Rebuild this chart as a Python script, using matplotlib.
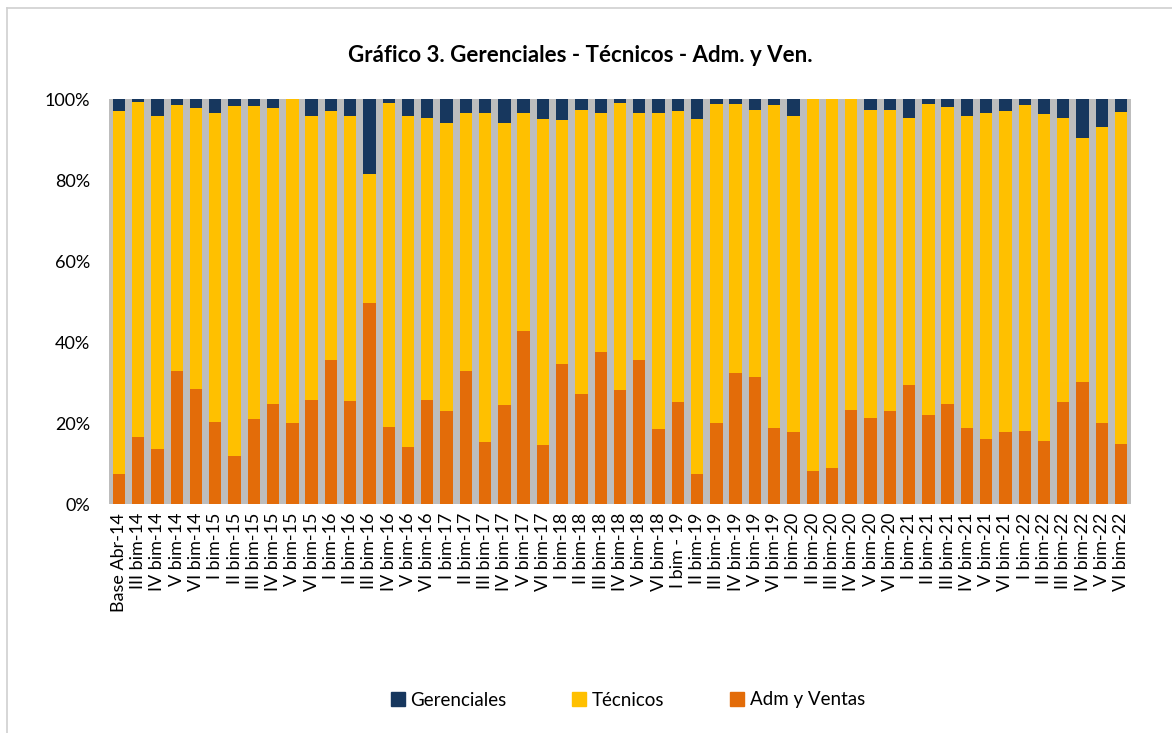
import matplotlib
matplotlib.use("Agg")
import matplotlib.pyplot as plt
from matplotlib.lines import Line2D
from matplotlib.ticker import FuncFormatter

plt.rcParams['font.family'] = ['Lato', 'DejaVu Sans']

categories = [
    "Base Abr-14", "III bim-14", "IV bim-14", "V bim-14", "VI bim-14",
    "I bim-15", "II bim-15", "III bim-15", "IV bim-15", "V bim-15", "VI bim-15",
    "I bim-16", "II bim-16", "III bim-16", "IV bim-16", "V bim-16", "VI bim-16",
    "I bim-17", "II bim-17", "III bim-17", "IV bim-17", "V bim-17", "VI bim-17",
    "I bim-18", "II bim-18", "III bim-18", "IV bim-18", "V bim-18", "VI bim-18",
    "I bim - 19", "II bim-19", "III bim-19", "IV bim-19", "V bim-19", "VI bim-19",
    "I bim-20", "II bim-20", "III bim-20", "IV bim-20", "V bim-20", "VI bim-20",
    "I bim-21", "II bim-21", "III bim-21", "IV bim-21", "V bim-21", "VI bim-21",
    "I bim-22", "II bim-22", "III bim-22", "IV bim-22", "V bim-22", "VI bim-22",
]

adm_ventas = [
    7.5, 16.5, 13.7, 33.0, 28.5,
    20.4, 12.0, 21.1, 24.7, 20.1, 25.7,
    35.6, 25.5, 49.8, 19.2, 14.1, 25.7,
    23.0, 32.8, 15.3, 24.5, 42.9, 14.7,
    34.6, 27.3, 37.5, 28.3, 35.6, 18.6,
    25.3, 7.5, 20.0, 32.4, 31.4, 18.9,
    17.9, 8.3, 9.0, 23.2, 21.4, 23.0,
    29.5, 22.0, 24.8, 18.8, 16.1, 17.8,
    18.2, 15.7, 25.3, 30.2, 20.0, 14.9,
]

tecnicos = [
    89.6, 82.9, 82.3, 65.5, 69.4,
    76.3, 86.3, 77.2, 73.2, 79.9, 70.3,
    61.5, 70.4, 31.8, 80.0, 81.9, 69.8,
    71.2, 63.9, 81.2, 69.7, 53.6, 80.4,
    60.2, 70.0, 59.2, 70.9, 60.9, 77.9,
    71.8, 87.7, 78.9, 66.4, 65.9, 79.6,
    78.0, 91.7, 91.0, 76.8, 75.9, 74.3,
    66.0, 76.8, 73.3, 77.2, 80.6, 79.3,
    80.3, 80.6, 70.2, 60.3, 73.2, 82.0,
]

gerenciales = [
    2.9, 0.6, 4.0, 1.5, 2.1,
    3.3, 1.7, 1.7, 2.1, 0.0, 4.0,
    2.9, 4.1, 18.4, 0.8, 4.0, 4.5,
    5.8, 3.3, 3.5, 5.8, 3.5, 4.9,
    5.2, 2.7, 3.3, 0.8, 3.5, 3.5,
    2.9, 4.8, 1.1, 1.2, 2.7, 1.5,
    4.1, 0.0, 0.0, 0.0, 2.7, 2.7,
    4.5, 1.2, 1.9, 4.0, 3.3, 2.9,
    1.5, 3.7, 4.5, 9.5, 6.8, 3.1,
]

c_ger = "#17375E"
c_tec = "#FFC000"
c_adm = "#E36C09"

W, H = 1172, 733
fig = plt.figure(figsize=(W / 100, H / 100), dpi=100)
ax = fig.add_axes([109.3 / W, 1 - 504.3 / H, (1130.7 - 109.3) / W, (504.3 - 99.3) / H])
ax.set_facecolor("#BDBDBD")

x = list(range(len(categories)))
bw = 0.64
bottom_tec = adm_ventas
bottom_ger = [a + t for a, t in zip(adm_ventas, tecnicos)]
ax.bar(x, adm_ventas, width=bw, color=c_adm, linewidth=0, label="Adm y Ventas")
ax.bar(x, tecnicos, width=bw, bottom=bottom_tec, color=c_tec, linewidth=0, label="Técnicos")
ax.bar(x, gerenciales, width=bw, bottom=bottom_ger, color=c_ger, linewidth=0, label="Gerenciales")

ax.set_xlim(-0.5, len(categories) - 0.5)
ax.set_ylim(0, 100)
ax.set_yticks([0, 20, 40, 60, 80, 100])
ax.yaxis.set_major_formatter(FuncFormatter(lambda v, p: f"{int(v)}%"))
ax.set_xticks(x)
ax.set_xticklabels(categories, rotation=90, fontsize=13, color="#000000")
ax.tick_params(axis="both", length=0)
ax.tick_params(axis="y", labelsize=13, pad=14, colors="#000000")
ax.tick_params(axis="x", pad=6)
for s in ax.spines.values():
    s.set_visible(False)

fig.text(0.495, 1 - 55 / H, "Gráfico 3. Gerenciales - Técnicos - Adm. y Ven.",
         ha="center", va="center", fontsize=16, fontweight="bold")

handles = [
    plt.Rectangle((0, 0), 1, 1, color=c_ger),
    plt.Rectangle((0, 0), 1, 1, color=c_tec),
    plt.Rectangle((0, 0), 1, 1, color=c_adm),
]
fig.legend(handles, ["Gerenciales", "Técnicos", "Adm y Ventas"], loc="center",
           bbox_to_anchor=(628 / W, 1 - 700 / H), ncol=3, frameon=False,
           fontsize=13.5, handlelength=0.75, handleheight=0.75, handletextpad=0.3,
           columnspacing=3.5)

# chart-area border (left and top visible)
fig.add_artist(Line2D([7 / W, 7 / W], [0, 1 - 8 / H], transform=fig.transFigure, color="#D0D0D0", linewidth=1.2))
fig.add_artist(Line2D([7 / W, 1], [1 - 8 / H, 1 - 8 / H], transform=fig.transFigure, color="#D0D0D0", linewidth=1.2))

fig.savefig("out.png", dpi=100, facecolor="white")
